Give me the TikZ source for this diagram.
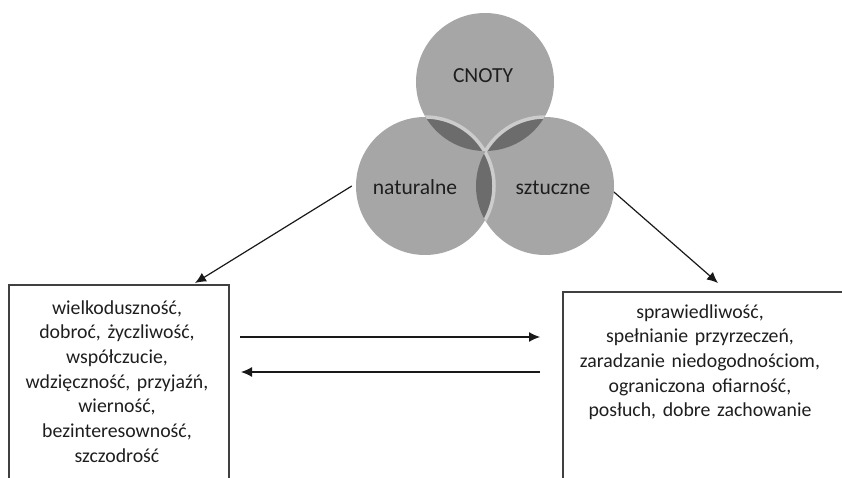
\documentclass[tikz,border=0pt]{standalone}
\usepackage{fontspec}
\setmainfont{Carlito}
\usepackage{xcolor}
\usepackage{tikz}
\usetikzlibrary{arrows.meta,positioning}
\definecolor{txtgray}{HTML}{1E1E1E}
\definecolor{boxgray}{HTML}{404040}
\frenchspacing

\begin{document}
\begin{tikzpicture}[x=1pt,y=-1pt,
                    font=\fontsize{19.8}{24.7}\selectfont,
                    text=txtgray,
                    venn/.style={circle,minimum size=138pt,inner sep=0pt,
                    fill=black,fill opacity=0.35},
                    rim/.style={draw=black!20,line width=3.5pt},
                    lbl/.style={anchor=base,inner sep=0pt,font=\fontsize{21.5}{26}\selectfont},
                    box/.style={draw=boxgray,line width=1.5pt,rectangle,
                    anchor=north west,inner sep=0pt},
                    txt/.style={anchor=base,align=center,text width=#1,inner sep=0pt},
                    arr/.style={draw=black!90,line width=1.2pt,
                    -{Latex[length=11pt,width=10pt]}}]
    \clip (0,0) rectangle (842,478);
    % venn
    \node[venn](cnoty) at (485,82) {};
    \node[venn](nat) at (425,186) {};
    \node[venn](szt) at (545,186) {};
    \begin{scope}
        \clip (cnoty.center) circle (69pt) (szt.center) circle (69pt);
        \draw[rim] (nat.center) circle (69pt);
    \end{scope}
    \begin{scope}
        \clip (cnoty.center) circle (69pt);
        \draw[rim] (szt.center) circle (69pt);
    \end{scope}
    \node[lbl](cnotyl) at (483,83) {CNOTY};
    \node[lbl](natl) at (415,195) {naturalne};
    \node[lbl](sztl) at (553,195) {sztuczne};
    % boxes
    \node[box,minimum width=220pt,minimum height=240pt](lbox) at (8,284) {};
    \node[box,minimum width=320pt,minimum height=240pt](rbox) at (562,291) {};
    \node[txt=215pt](ltxt) at (117,314) {wielkoduszność,\\ dobroć, życzliwość,\\
        współczucie,\\ wdzięczność, przyjaźń,\\ wierność,\\
        bezinteresowność,\\ szczodrość};
    \node[txt=270pt](rtxt) at (700,318) {sprawiedliwość,\\ spełnianie przyrzeczeń,\\
        zaradzanie niedogodnościom,\\ ograniczona ofiarność,\\
        posłuch, dobre zachowanie};
    % arrows
    \coordinate (ltip) at (195,283);
    \coordinate (rtip) at (718,283);
    \coordinate (lstart) at ([xshift=-4pt]nat.west);
    \coordinate (rstart) at (szt.-5);
    \coordinate (h1a) at (240,337);
    \coordinate (h1b) at (540,337);
    \coordinate (h2a) at (540,372);
    \coordinate (h2b) at (241,372);
    \draw[arr] (lstart) -- (ltip);
    \draw[arr] (rstart) -- (rtip);
    \draw[arr] (h1a) -- (h1b);
    \draw[arr] (h2a) -- (h2b);
\end{tikzpicture}
\end{document}
